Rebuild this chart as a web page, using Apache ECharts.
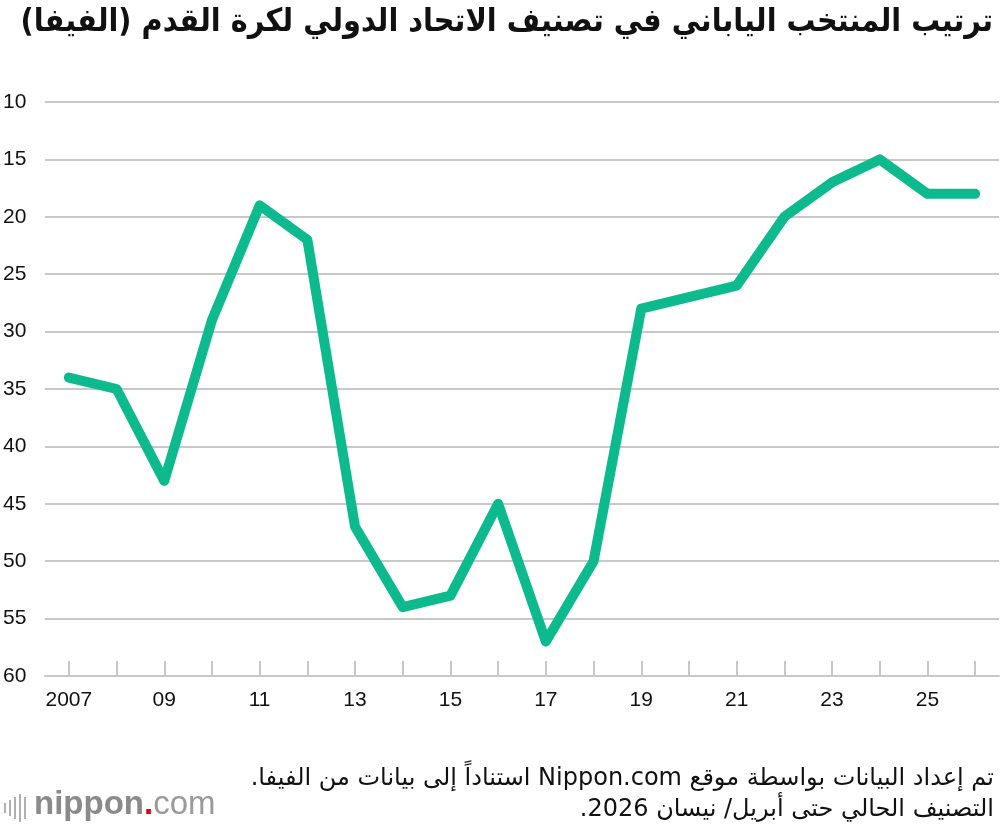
<!DOCTYPE html>
<html>
<head>
<meta charset="utf-8">
<script src="https://cdn.jsdelivr.net/npm/echarts@6/dist/echarts.min.js"></script>
<style>
html,body{margin:0;padding:0;background:#fff;}
#m1{width:1000px;height:832px;}
</style>
</head>
<body>
<div id="m1" dir="rtl"></div>
<script>
// FIFA ranking of Japan, one value per year
var years=['2007','08','09','10','11','12','13','14','15','16','17','18','19','20','21','22','23','24','25','26'];
var ranks=[34,35,43,29,19,22,47,54,53,45,57,50,28,27,26,20,17,15,18,18];
var yTicks=[10,60,5]; // min, max, step

var titleText='ترتيب المنتخب الياباني في تصنيف الاتحاد الدولي لكرة القدم (الفيفا)';
var note1='تم إعداد البيانات بواسطة موقع Nippon.com استناداً إلى بيانات من الفيفا.';
var note2='التصنيف الحالي حتى أبريل/ نيسان 2026.';

var myChart=echarts.init(document.getElementById('m1'));

// little bars in front of the logo
var logoBars=[];
var bh=[10,16,22,28,22];
for(var i=0;i<bh.length;i++){
    logoBars.push({type:'rect',left:4+i*5,top:808-bh[i]/2,shape:{width:2,height:bh[i]},style:{fill:'#b0b0b0'}});
}

var option={
    animation:false,
    backgroundColor:'#fff',
    textStyle:{fontFamily:'Liberation Sans, DejaVu Sans, sans-serif'},
    grid:{left:44,right:1,top:102,bottom:156,containLabel:false},
    xAxis:{
        type:'category',
        data:years,
        boundaryGap:true,
        axisLine:{lineStyle:{color:'#c8c8c8',width:2}},
        axisTick:{show:true,alignWithLabel:true,interval:0,inside:true,length:15,lineStyle:{color:'#c8c8c8',width:2}},
        axisLabel:{interval:1,color:'#111',fontSize:21,margin:14}
    },
    yAxis:{
        type:'value',
        inverse:true,
        min:yTicks[0],
        max:yTicks[1],
        interval:yTicks[2],
        axisLine:{show:false},
        axisTick:{show:false},
        axisLabel:{color:'#111',fontSize:21,align:'left',margin:42,showMaxLabel:true},
        splitLine:{lineStyle:{color:'#c8c8c8',width:2}}
    },
    graphic:logoBars.concat([
        {type:'text',right:7,top:7,style:{text:titleText,font:'bold 32px "DejaVu Sans Condensed", "DejaVu Sans", sans-serif',fill:'#111',textAlign:'right'}},
        {type:'text',right:6,top:767,style:{text:note1,font:'24px "DejaVu Sans", sans-serif',fill:'#111',textAlign:'right'}},
        {type:'text',right:6,top:798,style:{text:note2,font:'24px "DejaVu Sans", sans-serif',fill:'#111',textAlign:'right'}},
        {type:'text',left:34,top:788,style:{
            text:'{b|nippon}{dot|.}{c|com}',
            rich:{
                b:{fontSize:33,fill:'#8a8a8a',fontWeight:'bold',fontFamily:'Liberation Sans'},
                dot:{fontSize:33,fill:'#e60012',fontWeight:'bold',fontFamily:'Liberation Sans'},
                c:{fontSize:33,fill:'#9a9a9a',fontFamily:'Liberation Sans'}
            }
        }}
    ]),
    series:[
        {
        name:'rank',
        type:'line',
        data:ranks,
        symbol:'none',
        lineStyle:{color:'#0dba8e',width:10,join:'round',cap:'round'}
        }
    ]
};
myChart.setOption(option);
</script>
</body>
</html>
